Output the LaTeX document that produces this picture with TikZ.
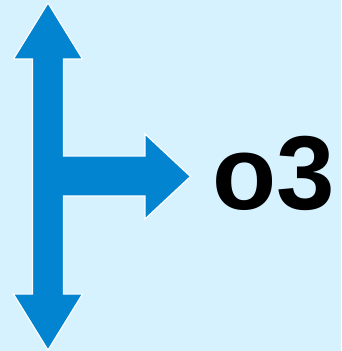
\documentclass[tikz,border=0pt]{standalone}
\usepackage{fontspec}
\setmainfont{Liberation Sans}
\definecolor{skybg}{HTML}{D6F2FE}
\definecolor{arrowblue}{HTML}{0284D0}
\begin{document}
\begin{tikzpicture}[x=1pt,y=1pt]
    \fill[skybg] (0,0) rectangle (341,351);
    \useasboundingbox (0,0) rectangle (341,351);
    \draw[white,line width=1.2pt,fill=arrowblue,line join=miter]
      (48,348) -- (82.5,292) -- (63.5,292) -- (63.5,195) -- (145,195) -- (145,217)
      -- (190.5,174.5) -- (145,132) -- (145,155) -- (63.5,155) -- (63.5,57)
      -- (82.5,57) -- (48,1) -- (13.5,57) -- (32.5,57) -- (32.5,292)
      -- (13.5,292) -- cycle;
    \node[anchor=base west,inner sep=0pt] (label) at (212,141)
      {\fontsize{105}{105}\selectfont\bfseries o3};
  \end{tikzpicture}
\end{document}
